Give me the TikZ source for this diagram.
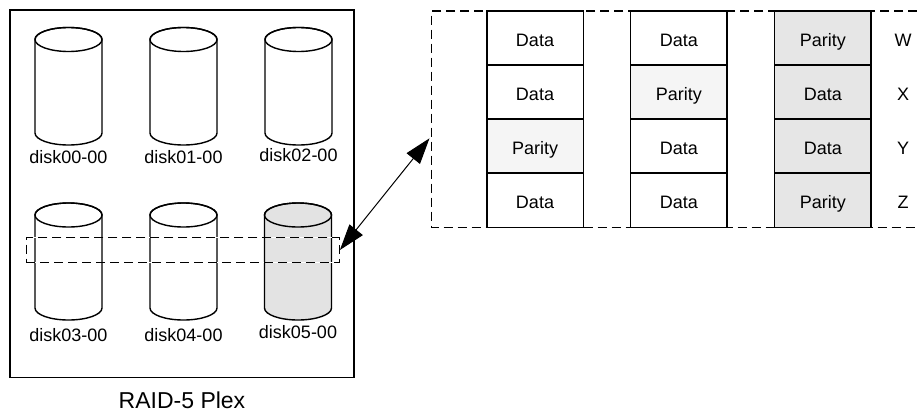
\documentclass[tikz,border=0pt]{standalone}
\usepackage{fontspec}
\setmainfont{Liberation Sans}
\usetikzlibrary{arrows.meta}
\definecolor{diskgray}{RGB}{227,227,227}
\definecolor{colgray}{RGB}{230,230,230}
\definecolor{lightpar}{RGB}{245,245,245}
\tikzset{
  solidline/.style={line width=1.4pt, draw=black},
  lbl/.style={font=\fontsize{18}{20}\selectfont, inner sep=0pt, anchor=base},
  cell/.style={draw=black, line width=1.4pt, minimum width=96.4pt, minimum height=54pt, inner sep=0pt, text height=16pt, text depth=0pt, font=\fontsize{18}{20}\selectfont},
  rowlbl/.style={font=\fontsize{18}{20}\selectfont, inner sep=0pt, text height=16pt, text depth=0pt},
  dashbox/.style={draw=black, line width=1.1pt, dash pattern=on 9pt off 5pt},
  bigarrow/.style={line width=1pt, {Triangle[length=26pt,width=17pt]}-{Triangle[length=26pt,width=17pt]}},
}
\newcommand{\diskcyl}[4]{%
  \filldraw[solidline, fill=#4] (#1-33.5,#2) -- (#1-33.5,#3)
     arc[start angle=180, end angle=360, x radius=33.5pt, y radius=12pt]
     -- (#1+33.5,#2)
     arc[start angle=0, end angle=180, x radius=33.5pt, y radius=12pt] -- cycle;
  \draw[solidline] (#1,#2) ellipse[x radius=33.5pt, y radius=12pt];
}
\begin{document}
\begin{tikzpicture}[x=1pt,y=-1pt]
\useasboundingbox (0,0) rectangle (917,412);
% plex box
\node[draw=black, line width=1.4pt, minimum width=344pt, minimum height=367.7pt, inner sep=0pt] (plex) at (182,193.85) {};
\node[font=\fontsize{23}{26}\selectfont, inner sep=0pt, anchor=base] (plextitle) at (182,408) {RAID-5 Plex};
% disks
\diskcyl{68.5}{39.5}{133}{white}
\diskcyl{183.5}{39.5}{133}{white}
\diskcyl{298.5}{39.5}{133}{white}
\diskcyl{68.5}{215}{308}{white}
\diskcyl{183.5}{215}{308}{white}
\diskcyl{298}{215}{308}{diskgray}
\node[lbl] (l00) at (68.5,163.5) {disk00-00};
\node[lbl] (l01) at (183.5,163.5) {disk01-00};
\node[lbl] (l02) at (298.5,161.5) {disk02-00};
\node[lbl] (l03) at (68.5,341) {disk03-00};
\node[lbl] (l04) at (183.5,341) {disk04-00};
\node[lbl] (l05) at (298,338) {disk05-00};
% stripe selection in plex
\node[draw=white, line width=1pt, minimum width=313.3pt, minimum height=24.6pt, inner sep=0pt] (stripebg) at (182.7,250) {};
\node[dashbox, minimum width=313.3pt, minimum height=24.6pt, inner sep=0pt] (stripe) at (182.7,250) {};
% big dashed box
\draw[dashbox] (917,11) -- (431.7,11) -- (431.7,227.7) -- (917,227.7);
% columns
\node[cell] (a1) at (535,38) {Data};
\node[cell] (a2) at (535,92) {Data};
\node[cell, fill=lightpar] (a3) at (535,146) {Parity};
\node[cell] (a4) at (535,200.3) {Data};
\node[cell] (b1) at (678.8,38) {Data};
\node[cell, fill=lightpar] (b2) at (678.8,92) {Parity};
\node[cell] (b3) at (678.8,146) {Data};
\node[cell] (b4) at (678.8,200.3) {Data};
\node[cell, fill=colgray] (c1) at (822.8,38) {Parity};
\node[cell, fill=colgray] (c2) at (822.8,92) {Data};
\node[cell, fill=colgray] (c3) at (822.8,146) {Data};
\node[cell, fill=colgray] (c4) at (822.8,200.3) {Parity};
\node[rowlbl] (w) at (903,38) {W};
\node[rowlbl] (x) at (903,92) {X};
\node[rowlbl] (y) at (903,146) {Y};
\node[rowlbl] (z) at (903,200.3) {Z};
% arrow
\coordinate (arrL) at (stripe.east);
\coordinate (arrR) at (429.5,138.3);
\draw[bigarrow] (arrL) -- (arrR);
\end{tikzpicture}
\end{document}
